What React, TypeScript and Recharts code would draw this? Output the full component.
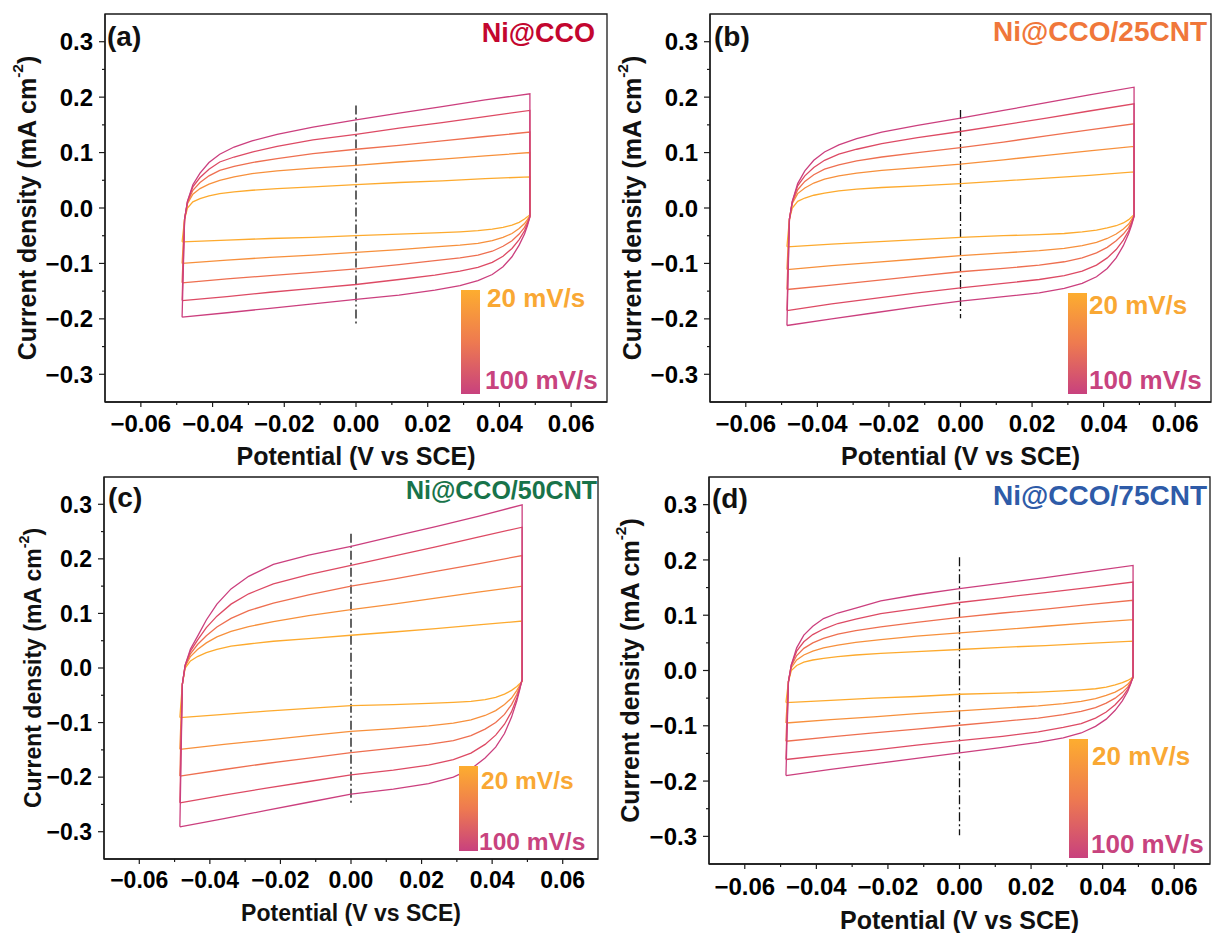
import React from "react"
import { LineChart, Line, XAxis, YAxis, ReferenceArea, ReferenceLine } from "recharts"

const FONT = '"Liberation Sans", Arial, Helvetica, sans-serif'
const AXIS = "#1a1a1a"

// scan rates (mV/s), slowest first
const RATES = [20, 40, 60, 80, 100]
const RATE_COLORS = ["#FDAA2E", "#F7903C", "#EE6F50", "#DD4A64", "#CB3F7E"]

// potential grid (V vs SCE): anodic sweep then cathodic sweep
const FWD_V = [-0.0485, -0.0478, -0.047, -0.0455, -0.0435, -0.041, -0.038, -0.034, -0.029, -0.022, -0.012, 0, 0.012, 0.024, 0.036, 0.0485]
const REV_V = [0.0485, 0.0478, 0.047, 0.0455, 0.0435, 0.041, 0.038, 0.034, 0.029, 0.022, 0.012, 0, -0.012, -0.024, -0.036, -0.0485]

// current density (mA cm-2), one row per scan rate
const A_FWD = [
  [-0.061, -0.02, 0.0, 0.011, 0.017, 0.022, 0.026, 0.029, 0.032, 0.035, 0.038, 0.042, 0.046, 0.049, 0.053, 0.056],
  [-0.1, -0.02, 0.008, 0.025, 0.035, 0.043, 0.05, 0.056, 0.062, 0.067, 0.072, 0.077, 0.083, 0.088, 0.094, 0.1],
  [-0.135, -0.02, 0.01, 0.032, 0.046, 0.058, 0.068, 0.075, 0.082, 0.089, 0.098, 0.106, 0.113, 0.121, 0.129, 0.137],
  [-0.167, -0.02, 0.012, 0.038, 0.055, 0.07, 0.083, 0.092, 0.101, 0.111, 0.123, 0.133, 0.144, 0.154, 0.165, 0.176],
  [-0.197, -0.02, 0.012, 0.042, 0.063, 0.082, 0.097, 0.11, 0.121, 0.133, 0.146, 0.159, 0.171, 0.183, 0.195, 0.206],
]
const A_REV = [
  [-0.012, -0.016, -0.02, -0.026, -0.031, -0.035, -0.038, -0.041, -0.043, -0.045, -0.047, -0.05, -0.053, -0.055, -0.058, -0.061],
  [-0.014, -0.021, -0.028, -0.037, -0.046, -0.053, -0.059, -0.064, -0.067, -0.07, -0.075, -0.08, -0.085, -0.089, -0.094, -0.1],
  [-0.015, -0.025, -0.035, -0.047, -0.059, -0.069, -0.078, -0.085, -0.09, -0.095, -0.102, -0.11, -0.116, -0.122, -0.128, -0.135],
  [-0.016, -0.029, -0.041, -0.057, -0.073, -0.087, -0.098, -0.107, -0.114, -0.121, -0.129, -0.138, -0.145, -0.152, -0.16, -0.167],
  [-0.016, -0.032, -0.047, -0.067, -0.088, -0.106, -0.12, -0.131, -0.14, -0.148, -0.157, -0.165, -0.173, -0.181, -0.189, -0.197],
]

const B_FWD = [
  [-0.07, -0.02, 0.0, 0.012, 0.018, 0.023, 0.027, 0.031, 0.034, 0.037, 0.04, 0.044, 0.049, 0.054, 0.059, 0.065],
  [-0.111, -0.02, 0.008, 0.026, 0.036, 0.045, 0.052, 0.058, 0.063, 0.068, 0.073, 0.079, 0.087, 0.095, 0.103, 0.111],
  [-0.147, -0.02, 0.01, 0.033, 0.048, 0.06, 0.07, 0.078, 0.085, 0.092, 0.1, 0.109, 0.119, 0.13, 0.141, 0.152],
  [-0.185, -0.02, 0.012, 0.04, 0.058, 0.073, 0.086, 0.097, 0.106, 0.116, 0.127, 0.138, 0.15, 0.162, 0.175, 0.188],
  [-0.212, -0.02, 0.012, 0.044, 0.067, 0.086, 0.101, 0.114, 0.125, 0.137, 0.149, 0.162, 0.176, 0.19, 0.204, 0.218],
]
const B_REV = [
  [-0.012, -0.016, -0.021, -0.027, -0.032, -0.036, -0.04, -0.043, -0.046, -0.048, -0.05, -0.053, -0.057, -0.061, -0.065, -0.07],
  [-0.013, -0.021, -0.029, -0.038, -0.047, -0.055, -0.062, -0.068, -0.073, -0.077, -0.081, -0.086, -0.092, -0.098, -0.104, -0.111],
  [-0.014, -0.025, -0.035, -0.047, -0.059, -0.071, -0.081, -0.09, -0.097, -0.103, -0.109, -0.115, -0.123, -0.131, -0.139, -0.147],
  [-0.015, -0.028, -0.041, -0.058, -0.075, -0.09, -0.103, -0.114, -0.122, -0.129, -0.136, -0.144, -0.153, -0.163, -0.173, -0.185],
  [-0.015, -0.031, -0.046, -0.068, -0.09, -0.109, -0.124, -0.136, -0.145, -0.153, -0.16, -0.168, -0.178, -0.189, -0.2, -0.212],
]

const C_FWD = [
  [-0.091, -0.03, 0.0, 0.013, 0.021, 0.028, 0.034, 0.04, 0.044, 0.049, 0.054, 0.06, 0.066, 0.072, 0.079, 0.086],
  [-0.149, -0.03, 0.003, 0.021, 0.034, 0.046, 0.057, 0.067, 0.076, 0.085, 0.096, 0.107, 0.117, 0.128, 0.139, 0.15],
  [-0.198, -0.03, 0.004, 0.026, 0.043, 0.059, 0.075, 0.091, 0.105, 0.119, 0.134, 0.15, 0.163, 0.177, 0.191, 0.206],
  [-0.247, -0.03, 0.005, 0.031, 0.051, 0.074, 0.095, 0.117, 0.136, 0.154, 0.171, 0.188, 0.205, 0.222, 0.24, 0.258],
  [-0.291, -0.03, 0.005, 0.035, 0.058, 0.088, 0.117, 0.145, 0.168, 0.19, 0.207, 0.223, 0.241, 0.259, 0.278, 0.299],
]
const C_REV = [
  [-0.024, -0.029, -0.034, -0.041, -0.048, -0.054, -0.058, -0.061, -0.063, -0.065, -0.067, -0.069, -0.074, -0.079, -0.085, -0.091],
  [-0.024, -0.032, -0.041, -0.055, -0.067, -0.078, -0.087, -0.095, -0.101, -0.106, -0.111, -0.116, -0.124, -0.132, -0.14, -0.149],
  [-0.023, -0.035, -0.048, -0.067, -0.085, -0.1, -0.112, -0.124, -0.133, -0.14, -0.147, -0.155, -0.165, -0.175, -0.186, -0.198],
  [-0.022, -0.038, -0.055, -0.08, -0.103, -0.123, -0.14, -0.156, -0.168, -0.178, -0.187, -0.196, -0.208, -0.22, -0.233, -0.247],
  [-0.02, -0.04, -0.06, -0.09, -0.12, -0.145, -0.165, -0.185, -0.2, -0.212, -0.222, -0.231, -0.246, -0.261, -0.276, -0.291],
]

const D_FWD = [
  [-0.058, -0.02, 0.0, 0.009, 0.015, 0.019, 0.022, 0.025, 0.028, 0.031, 0.034, 0.038, 0.042, 0.045, 0.049, 0.053],
  [-0.095, -0.02, 0.005, 0.019, 0.028, 0.035, 0.041, 0.046, 0.051, 0.056, 0.062, 0.068, 0.074, 0.08, 0.086, 0.092],
  [-0.128, -0.02, 0.008, 0.027, 0.04, 0.05, 0.058, 0.066, 0.072, 0.079, 0.087, 0.096, 0.104, 0.111, 0.119, 0.127],
  [-0.161, -0.02, 0.01, 0.035, 0.052, 0.065, 0.075, 0.085, 0.093, 0.103, 0.112, 0.123, 0.132, 0.141, 0.15, 0.16],
  [-0.19, -0.02, 0.01, 0.041, 0.064, 0.08, 0.094, 0.104, 0.113, 0.126, 0.137, 0.148, 0.158, 0.168, 0.179, 0.19],
]
const D_REV = [
  [-0.012, -0.015, -0.018, -0.022, -0.026, -0.03, -0.033, -0.035, -0.037, -0.039, -0.041, -0.043, -0.047, -0.05, -0.054, -0.058],
  [-0.013, -0.019, -0.025, -0.032, -0.039, -0.045, -0.051, -0.056, -0.06, -0.064, -0.068, -0.073, -0.078, -0.084, -0.089, -0.095],
  [-0.013, -0.022, -0.03, -0.04, -0.05, -0.059, -0.067, -0.074, -0.08, -0.086, -0.092, -0.099, -0.106, -0.113, -0.12, -0.128],
  [-0.012, -0.024, -0.034, -0.048, -0.062, -0.075, -0.086, -0.096, -0.103, -0.111, -0.119, -0.127, -0.135, -0.144, -0.152, -0.161],
  [-0.01, -0.025, -0.038, -0.055, -0.072, -0.088, -0.101, -0.113, -0.122, -0.13, -0.139, -0.149, -0.159, -0.169, -0.179, -0.19],
]

// dash-dot marker at 0 V: [top, bottom] current
const A_DASH = [0.185, -0.212]
const B_DASH = [0.177, -0.199]
const C_DASH = [0.246, -0.251]
const D_DASH = [0.205, -0.298]

const X_TICKS = [-0.06, -0.05, -0.04, -0.03, -0.02, -0.01, 0, 0.01, 0.02, 0.03, 0.04, 0.05, 0.06]
const X_MAJOR = [-0.06, -0.04, -0.02, 0, 0.02, 0.04, 0.06]
const Y_TICKS = [-0.3, -0.25, -0.2, -0.15, -0.1, -0.05, 0, 0.05, 0.1, 0.15, 0.2, 0.25, 0.3]
const Y_MAJOR = [-0.3, -0.2, -0.1, 0, 0.1, 0.2, 0.3]

const fmt = (v: number, d: number) => (v < 0 ? "\u2212" : "") + Math.abs(v).toFixed(d)

const PANELS = [
  {
    tag: "(a)", title: "Ni@CCO", titleColor: "#C3062F", fwd: A_FWD, rev: A_REV, dash: A_DASH,
    box: { left: 0, top: 0, w: 612, h: 470 }, plot: { l: 105, t: 14, r: 607, b: 402 },
    tickFs: 24, labelFs: 25, xGap: 13, yTitleX: 27, xTitleY: 456, tagPos: [107, 46], titlePos: [595, 42], titleFs: 27,
    legend: { x: 461, y: 290, h: 104, t1: [487, 307], t2: [485, 389], fs: 26 },
  },
  {
    tag: "(b)", title: "Ni@CCO/25CNT", titleColor: "#F0773A", fwd: B_FWD, rev: B_REV, dash: B_DASH,
    box: { left: 606, top: 0, w: 606, h: 470 }, plot: { l: 710, t: 14, r: 1211, b: 402 },
    tickFs: 24, labelFs: 25, xGap: 13, yTitleX: 632, xTitleY: 456, tagPos: [714, 46], titlePos: [1207, 41], titleFs: 28,
    legend: { x: 1068, y: 293, h: 101, t1: [1089, 314], t2: [1089, 389], fs: 26 },
  },
  {
    tag: "(c)", title: "Ni@CCO/50CNT", titleColor: "#18734A", fwd: C_FWD, rev: C_REV, dash: C_DASH,
    box: { left: 0, top: 466, w: 606, h: 467 }, plot: { l: 104, t: 477, r: 598, b: 859 },
    tickFs: 23, labelFs: 23, xGap: 12, yTitleX: 33, xTitleY: 913, tagPos: [108, 507], titlePos: [597, 499], titleFs: 25,
    legend: { x: 459, y: 766, h: 85, t1: [481, 789], t2: [479, 850], fs: 24.5 },
  },
  {
    tag: "(d)", title: "Ni@CCO/75CNT", titleColor: "#2E5BA8", fwd: D_FWD, rev: D_REV, dash: D_DASH,
    box: { left: 606, top: 466, w: 606, h: 467 }, plot: { l: 709, t: 477, r: 1210, b: 864 },
    tickFs: 24, labelFs: 25, xGap: 14, yTitleX: 630, xTitleY: 920, tagPos: [712, 508], titlePos: [1207, 505], titleFs: 28,
    legend: { x: 1069, y: 739, h: 119, t1: [1092, 765], t2: [1091, 853], fs: 26 },
  },
]

const XTick = (props: any) => {
  const { x, y, payload, fs, gap } = props
  const major = X_MAJOR.includes(payload.value)
  return (
    <g>
      <line x1={x} x2={x} y1={y} y2={y + (major ? 5 : 3)} stroke={AXIS} strokeWidth={1.2} />
      {major && (
        <text x={x} y={y + gap + fs * 0.72} textAnchor="middle" fontSize={fs} fontWeight="bold" fontFamily={FONT} fill="#000">
          {fmt(payload.value, 2)}
        </text>
      )}
    </g>
  )
}

const YTick = (props: any) => {
  const { x, y, payload, fs } = props
  const major = Y_MAJOR.includes(payload.value)
  return (
    <g>
      <line x1={x - (major ? 6 : 3)} x2={x} y1={y} y2={y} stroke={AXIS} strokeWidth={1.2} />
      {major && (
        <text x={x - 12} y={y + fs * 0.36} textAnchor="end" fontSize={fs} fontWeight="bold" fontFamily={FONT} fill="#000">
          {fmt(payload.value, 1)}
        </text>
      )}
    </g>
  )
}

function Panel({ cfg }: { cfg: any }) {
  const { box, plot } = cfg
  const loops = RATES.map((_, k) =>
    FWD_V.map((v, j) => ({ v, i: cfg.fwd[k][j] })).concat(REV_V.map((v, j) => ({ v, i: cfg.rev[k][j] })))
  )
  return (
    <div style={{ position: "absolute", left: box.left, top: box.top }}>
      <LineChart
        width={box.w}
        height={box.h}
        margin={{ top: plot.t - box.top, right: box.left + box.w - plot.r, bottom: 0, left: 0 }}
      >
        <XAxis
          type="number"
          dataKey="v"
          domain={[-0.07, 0.07]}
          allowDataOverflow
          ticks={X_TICKS}
          interval={0}
          height={box.top + box.h - plot.b}
          tickLine={false}
          tickSize={0}
          tickMargin={0}
          axisLine={{ stroke: AXIS, strokeWidth: 1.3 }}
          tick={(p: any) => <XTick {...p} fs={cfg.tickFs} gap={cfg.xGap} />}
        />
        <YAxis
          type="number"
          domain={[-0.35, 0.35]}
          allowDataOverflow
          ticks={Y_TICKS}
          interval={0}
          width={plot.l - box.left}
          tickLine={false}
          tickSize={0}
          tickMargin={0}
          axisLine={{ stroke: AXIS, strokeWidth: 1.3 }}
          tick={(p: any) => <YTick {...p} fs={cfg.tickFs} />}
        />
        <ReferenceArea x1={-0.07} x2={0.07} y1={-0.35} y2={0.35} fill="none" stroke={AXIS} strokeWidth={1.3} />
        <ReferenceLine
          segment={[{ x: 0, y: cfg.dash[0] }, { x: 0, y: cfg.dash[1] }]}
          stroke="#111"
          strokeWidth={1.3}
          strokeDasharray="9 3 2 3"
        />
        {loops.map((d, k) => (
          <Line
            key={RATES[k]}
            data={d}
            dataKey="i"
            type="linear"
            stroke={RATE_COLORS[k]}
            strokeWidth={1.3}
            dot={false}
            activeDot={false}
            isAnimationActive={false}
          />
        ))}
      </LineChart>
    </div>
  )
}

function Overlay() {
  return (
    <svg width={1212} height={933} style={{ position: "absolute", left: 0, top: 0, pointerEvents: "none" }}>
      <defs>
        <linearGradient id="rateGrad" x1="0" y1="0" x2="0" y2="1">
          <stop offset="0%" stopColor="#FDAD2F" />
          <stop offset="50%" stopColor="#EE7A50" />
          <stop offset="100%" stopColor="#C8417E" />
        </linearGradient>
      </defs>
      {PANELS.map((p) => {
        const cy = (p.plot.t + p.plot.b) / 2
        const cx = (p.plot.l + p.plot.r) / 2
        const lg = p.legend
        return (
          <g key={p.tag} fontFamily={FONT} fontWeight="bold">
            <text x={p.tagPos[0]} y={p.tagPos[1]} fontSize={28} fill="#111">{p.tag}</text>
            <text x={p.titlePos[0]} y={p.titlePos[1]} fontSize={p.titleFs} fill={p.titleColor} textAnchor="end">{p.title}</text>
            <text
              x={p.yTitleX}
              y={cy}
              transform={`rotate(-90 ${p.yTitleX} ${cy})`}
              textAnchor="middle"
              dominantBaseline="central"
              fontSize={p.labelFs}
              fill="#111"
            >
              Current density (mA cm<tspan dy={-p.labelFs * 0.4} fontSize={p.labelFs * 0.62}>-2</tspan>
              <tspan dy={p.labelFs * 0.4}>)</tspan>
            </text>
            <text x={cx} y={p.xTitleY} textAnchor="middle" dominantBaseline="central" fontSize={p.labelFs} fill="#111">
              Potential (V vs SCE)
            </text>
            <rect x={lg.x} y={lg.y} width={19} height={lg.h} fill="url(#rateGrad)" />
            <text x={lg.t1[0]} y={lg.t1[1]} fontSize={lg.fs} fill="#F9A834">{RATES[0]} mV/s</text>
            <text x={lg.t2[0]} y={lg.t2[1]} fontSize={lg.fs} fill="#C8437E">{RATES[RATES.length - 1]} mV/s</text>
          </g>
        )
      })}
    </svg>
  )
}

export default function App() {
  return (
    <div style={{ position: "absolute", left: 0, top: 0, width: 1212, height: 933, background: "#fff", fontFamily: FONT }}>
      {PANELS.map((p) => (
        <Panel key={p.tag} cfg={p} />
      ))}
      <Overlay />
    </div>
  )
}
